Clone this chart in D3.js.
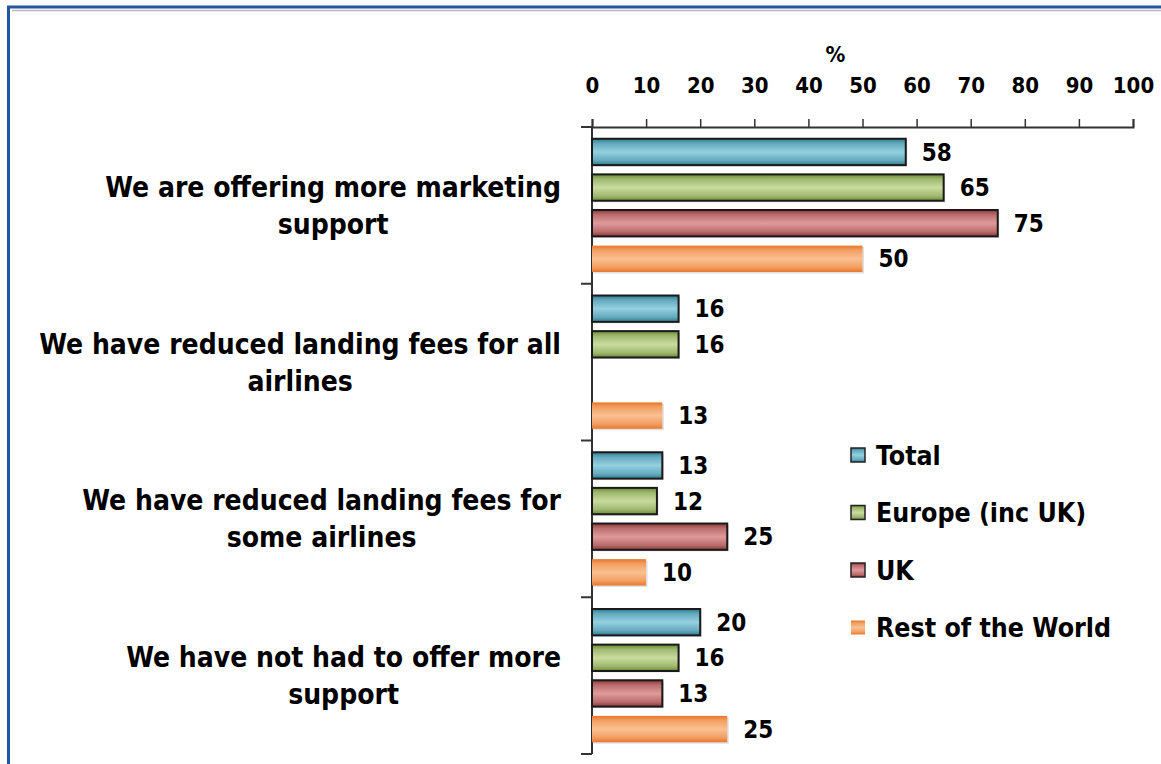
<!DOCTYPE html>
<html>
<head>
<meta charset="utf-8">
<script src="https://cdn.jsdelivr.net/npm/d3@7"></script>
<style>
  html, body { margin: 0; padding: 0; background: #fff; }
  svg { display: block; }
  text { font-family: "DejaVu Sans Condensed", "DejaVu Sans", sans-serif; font-stretch: condensed; font-weight: bold; fill: #000; }
</style>
</head>
<body>
<svg id="chart" width="1161" height="764"></svg>
<script>
// Survey answers (each split into the lines it is printed on)
const categories = [
  ["We are offering more marketing", "support"],
  ["We have reduced landing fees for all", "airlines"],
  ["We have reduced landing fees for", "some airlines"],
  ["We have not had to offer more", "support"]
];
const seriesNames = ["Total", "Europe (inc UK)", "UK", "Rest of the World"];
const totalValues  = [58, 16, 13, 20];
const europeValues = [65, 16, 12, 16];
const ukValues     = [75, null, 25, 13];
const rowValues    = [50, 13, 10, 25];
const tickValues   = [0, 10, 20, 30, 40, 50, 60, 70, 80, 90, 100];

const seriesValues = [totalValues, europeValues, ukValues, rowValues];

// colour ramps: edge / light centre, plus outline
const palette = [
  { edge: "#2c7b93", mid: "#94d0e0", stroke: "#1a1a1a" },
  { edge: "#6b8b35", mid: "#c9dc9f", stroke: "#1a1a1a" },
  { edge: "#8c3636", mid: "#e09a9a", stroke: "#1a1a1a" },
  { edge: "#e8772a", mid: "#fac091", stroke: "none" }
];

const svg = d3.select("#chart");
const W = 1161, H = 764;

// frame
svg.append("rect").attr("x", 8.5).attr("y", 7).attr("width", W + 20).attr("height", H + 20)
  .attr("fill", "none").attr("stroke", "#2256a0").attr("stroke-width", 3);
svg.append("line").attr("x1", 12).attr("x2", W).attr("y1", 10.5).attr("y2", 10.5)
  .attr("stroke", "#b8b8b8").attr("stroke-width", 1.5);

// gradients
const defs = svg.append("defs");
palette.forEach((p, i) => {
  const g = defs.append("linearGradient").attr("id", "grad" + i)
    .attr("x1", 0).attr("y1", 0).attr("x2", 0).attr("y2", 1);
  [[0, p.edge], [0.18, d3.interpolateRgb(p.edge, p.mid)(0.55)], [0.5, p.mid],
   [0.82, d3.interpolateRgb(p.edge, p.mid)(0.55)], [1, p.edge]]
    .forEach(([o, c]) => g.append("stop").attr("offset", o).attr("stop-color", c));
});

const x = d3.scaleLinear().domain([0, 100]).range([592, 1133]);
const y = d3.scaleBand().domain(d3.range(categories.length)).range([127, 754]);
const yInner = d3.scaleBand().domain(d3.range(seriesNames.length))
  .range([0, y.bandwidth()]).paddingInner(0.26).paddingOuter(0.33);

// top value axis
const xAxis = d3.axisTop(x).tickValues(tickValues).tickSize(8).tickPadding(26).tickFormat(d3.format("d"));
const gx = svg.append("g").attr("transform", "translate(0,127)").call(xAxis);
gx.select(".domain").attr("stroke", "#333").attr("stroke-width", 2);
gx.selectAll(".tick line").attr("stroke", "#333").attr("stroke-width", 1.5);
gx.selectAll(".tick text").style("font-size", "22px").attr("fill", "#000");

svg.append("text").attr("x", x(45)).attr("y", 62).attr("text-anchor", "middle")
  .style("font-size", "22px").text("%");

// category axis with boundary ticks
svg.append("line").attr("x1", 592).attr("x2", 592).attr("y1", 127).attr("y2", 754)
  .attr("stroke", "#333").attr("stroke-width", 2);
const bounds = d3.range(categories.length + 1).map(i => i < categories.length ? y(i) : y(i - 1) + y.bandwidth());
svg.selectAll(".cat-tick").data(bounds).join("line")
  .attr("x1", 581).attr("x2", 592).attr("y1", d => d).attr("y2", d => d)
  .attr("stroke", "#333").attr("stroke-width", 2);

// category labels: block right-aligned, lines centred within the block
const labelRight = 561;
categories.forEach((lines, i) => {
  const g = svg.append("g");
  const lh = 37;
  const cy = y(i) + y.bandwidth() / 2;
  const texts = lines.map((ln, j) => g.append("text")
    .attr("y", cy + (j - (lines.length - 1) / 2) * lh)
    .attr("dy", "0.36em")
    .attr("text-anchor", "middle")
    .style("font-size", "28px")
    .text(ln));
  const maxW = d3.max(texts, t => t.node().getComputedTextLength());
  texts.forEach(t => t.attr("x", labelRight - maxW / 2));
});

// bars
seriesValues.forEach((vals, s) => {
  const data = vals.map((v, i) => ({ v, i })).filter(d => d.v != null);
  svg.selectAll(".shadow" + s).data(data).join("rect")
    .attr("x", x(0) + 1.5).attr("y", d => y(d.i) + yInner(s) + 1.5)
    .attr("width", d => x(d.v) - x(0)).attr("height", yInner.bandwidth())
    .attr("fill", "#000").attr("opacity", 0.12);
  svg.selectAll(".bar" + s).data(data).join("rect")
    .attr("x", x(0)).attr("y", d => y(d.i) + yInner(s))
    .attr("width", d => x(d.v) - x(0)).attr("height", yInner.bandwidth())
    .attr("fill", `url(#grad${s})`)
    .attr("stroke", palette[s].stroke).attr("stroke-width", 2);
  svg.selectAll(".val" + s).data(data).join("text")
    .attr("x", d => x(d.v) + 16).attr("y", d => y(d.i) + yInner(s) + yInner.bandwidth() / 2)
    .attr("dy", "0.36em").style("font-size", "24px").text(d => d.v);
});

// legend
const legend = svg.append("g");
seriesNames.forEach((name, s) => {
  const ly = 455 + s * 57.5;
  legend.append("rect").attr("x", 851).attr("y", ly - 7).attr("width", 14).attr("height", 14)
    .attr("fill", `url(#grad${s})`)
    .attr("stroke", palette[s].stroke === "none" ? "none" : "#222").attr("stroke-width", 1.5);
  legend.append("text").attr("x", 876).attr("y", ly).attr("dy", "0.36em")
    .style("font-size", "26.5px").text(name);
});
</script>
</body>
</html>
